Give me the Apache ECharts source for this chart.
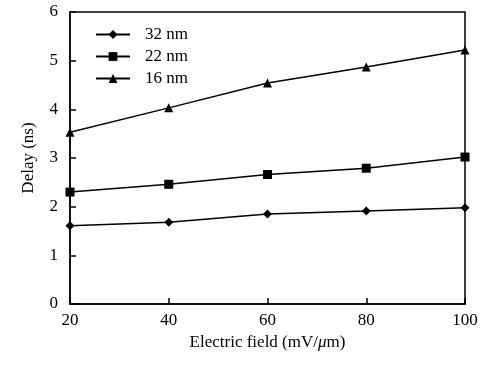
<!DOCTYPE html>
<html><head><meta charset="utf-8">
<script src="https://cdn.jsdelivr.net/npm/echarts@6/dist/echarts.min.js"></script>
<style>html,body{margin:0;padding:0;background:#fff}#c{width:496px;height:365px}</style>
</head><body><div id="c"></div>
<script>
var fields = [20, 40, 60, 80, 100];
var delay32 = [1.61, 1.68, 1.85, 1.91, 1.98];
var delay22 = [2.30, 2.46, 2.66, 2.79, 3.02];
var delay16 = [3.53, 4.03, 4.54, 4.87, 5.22];
var seriesNames = ['32 nm', '22 nm', '16 nm'];
var yTicks = [0, 1, 2, 3, 4, 5, 6];

function pairs(vals) { return fields.map(function (f, i) { return [f, vals[i]]; }); }
var font = 'Liberation Serif';
var fs = 17;
var chart = echarts.init(document.getElementById('c'));
var mk = function (name, vals, sym, size) {
  return {
    name: name, type: 'line', data: pairs(vals), symbol: sym, symbolSize: size,
    lineStyle: { color: '#000', width: 1.5 }, itemStyle: { color: '#000' },
    showSymbol: true, animation: false
  };
};
chart.setOption({
  animation: false,
  grid: { left: 70, right: 31, top: 12, bottom: 61, show: true, borderColor: '#000', borderWidth: 1.5, backgroundColor: 'transparent' },
  legend: {
    orient: 'vertical', left: 95, top: 26, padding: 0, itemGap: 5, itemWidth: 34, itemHeight: 11,
    data: seriesNames,
    textStyle: { fontFamily: font, fontSize: fs, color: '#000', padding: [0, 0, 0, 10] }
  },
  xAxis: {
    type: 'value', min: 20, max: 100, interval: 20,
    name: 'Electric field (mV/{i|μ}m)', nameLocation: 'middle', nameGap: 29,
    nameTextStyle: { fontFamily: font, fontSize: fs, color: '#000', rich: { i: { fontFamily: font, fontSize: fs, fontStyle: 'italic', color: '#000' } } },
    axisLine: { lineStyle: { color: '#000', width: 1.5 } },
    axisTick: { inside: true, length: 6, lineStyle: { color: '#000', width: 1.5 } },
    axisLabel: { fontFamily: font, fontSize: fs, color: '#000', margin: 8 },
    splitLine: { show: false }
  },
  yAxis: {
    type: 'value', min: yTicks[0], max: yTicks[yTicks.length - 1], interval: 1,
    name: 'Delay (ns)', nameLocation: 'middle', nameGap: 33,
    nameTextStyle: { fontFamily: font, fontSize: fs, color: '#000' },
    axisLine: { lineStyle: { color: '#000', width: 1.5 } },
    axisTick: { inside: true, length: 6, lineStyle: { color: '#000', width: 1.5 } },
    axisLabel: { fontFamily: font, fontSize: fs, color: '#000', margin: 12 },
    splitLine: { show: false }
  },
  series: [
    mk(seriesNames[0], delay32, 'diamond', 9),
    mk(seriesNames[1], delay22, 'rect', 9),
    mk(seriesNames[2], delay16, 'triangle', 9)
  ]
});
</script></body></html>
